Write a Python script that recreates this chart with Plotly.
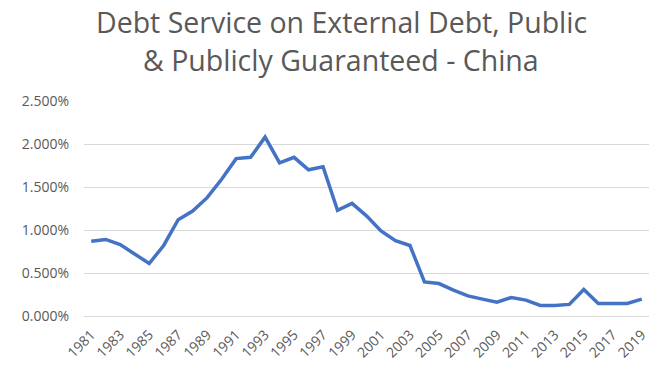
import plotly.graph_objects as go

# Debt service on external debt (public & publicly guaranteed), % of GNI
years = list(range(1981, 2020))
debt_service_pct = [
    0.870, 0.890, 0.830, 0.720, 0.610, 0.820, 1.120, 1.220, 1.376, 1.590,
    1.830, 1.845, 2.080, 1.780, 1.845, 1.700, 1.735, 1.230, 1.310, 1.165,
    0.990, 0.877, 0.820, 0.396, 0.377, 0.300, 0.234, 0.196, 0.160, 0.215,
    0.185, 0.123, 0.123, 0.135, 0.308, 0.146, 0.146, 0.146, 0.196,
]
y_ticks = [0.0, 0.5, 1.0, 1.5, 2.0, 2.5]
y_tick_text = [f"{v:.3f}%" for v in y_ticks]
x_ticks = list(range(1981, 2020, 2))
x_tick_text = [str(y) for y in x_ticks]
title_lines = ["Debt Service on External Debt, Public", "& Publicly Guaranteed - China"]

font_family = "'Open Sans', Lato, sans-serif"
grey = "#595959"

# plot area in pixels
W, H = 657, 375
M_L, M_R, M_T, M_B = 84, 8, 101, 59
plot_h = H - M_T - M_B


def paper_y(py):
    """Convert a pixel row (from top) to paper y coordinate."""
    return (H - M_B - py) / plot_h


def paper_x(px):
    return (px - M_L) / (W - M_L - M_R)


fig = go.Figure(
    go.Scatter(
        x=years,
        y=debt_service_pct,
        mode="lines",
        line=dict(color="#4472C4", width=3.5),
        hoverinfo="x+y",
    )
)

fig.update_layout(
    width=W,
    height=H,
    margin=dict(l=M_L, r=M_R, t=M_T, b=M_B),
    paper_bgcolor="white",
    plot_bgcolor="white",
    showlegend=False,
    font=dict(family=font_family, color=grey),
)

for text, cy in zip(title_lines, [22, 60]):
    fig.add_annotation(
        text=text,
        xref="paper",
        yref="paper",
        x=paper_x(341),
        y=paper_y(cy),
        xanchor="center",
        yanchor="middle",
        showarrow=False,
        font=dict(family=font_family, size=28.5, color=grey),
    )

fig.update_xaxes(
    range=[1980.5, 2019.5],
    tickvals=x_ticks,
    ticktext=x_tick_text,
    tickangle=-45,
    showgrid=False,
    showline=False,
    zeroline=False,
    ticks="",
    ticklabelstandoff=7,
    tickfont=dict(size=14, color=grey),
)

fig.update_yaxes(
    range=[0, 2.5],
    tickvals=y_ticks,
    ticktext=y_tick_text,
    showgrid=True,
    gridcolor="#d9d9d9",
    gridwidth=1,
    zeroline=True,
    zerolinecolor="#d9d9d9",
    zerolinewidth=1,
    showline=False,
    ticks="",
    ticklabelstandoff=14,
    tickfont=dict(size=14, color=grey),
)

fig.write_html("out.html")
